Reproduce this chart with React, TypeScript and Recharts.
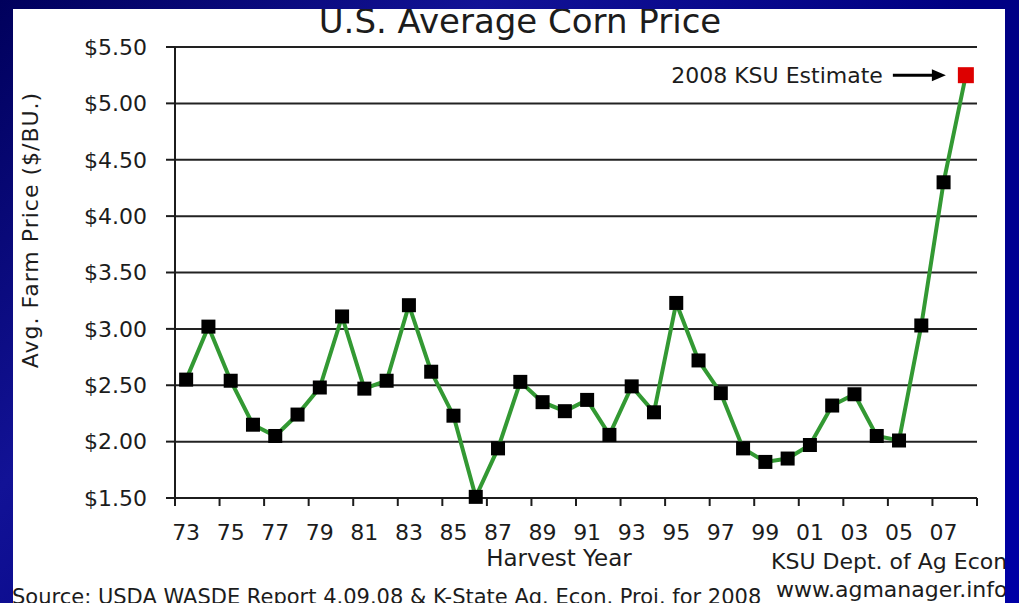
import React from "react";
import {
  LineChart, Line, XAxis, YAxis, CartesianGrid, ReferenceDot,
} from "recharts";

// harvest years, 1973 - 2008
const years = [
  "73", "74", "75", "76", "77", "78", "79", "80", "81", "82", "83", "84",
  "85", "86", "87", "88", "89", "90", "91", "92", "93", "94", "95", "96",
  "97", "98", "99", "00", "01", "02", "03", "04", "05", "06", "07", "08",
];
// avg farm price, $/bu (2008 = KSU estimate)
const prices = [
  2.55, 3.02, 2.54, 2.15, 2.05, 2.24, 2.48, 3.11, 2.47, 2.54, 3.21, 2.62,
  2.23, 1.51, 1.94, 2.53, 2.35, 2.27, 2.37, 2.06, 2.49, 2.26, 3.23, 2.72,
  2.43, 1.94, 1.82, 1.85, 1.97, 2.32, 2.42, 2.05, 2.01, 3.03, 4.30, 5.25,
];
const yTicks = [1.5, 2, 2.5, 3, 3.5, 4, 4.5, 5, 5.5];

const data = years.map((year, i) => ({ year, price: prices[i] }));

const FONT = "'DejaVu Sans', Verdana, sans-serif";
const INK = "#1c1c1c";
const GREEN = "#339933";
const W = 992;
const H = 594;
const MARGIN = { top: 38, right: 28, left: 0, bottom: 0 };
const Y_W = 162;
const BAND = (W - MARGIN.right - MARGIN.left - Y_W) / years.length;

function XTick(props: any) {
  const { x, y, payload } = props;
  const marks = [x - BAND / 2];
  if (payload.value === years[years.length - 2]) marks.push(x + BAND * 1.5);
  return (
    <g>
      {marks.map((mx, i) => (
        <line key={i} x1={mx} x2={mx} y1={y} y2={y + 8} stroke={INK} strokeWidth={2} />
      ))}
      <text x={x} y={y + 34} textAnchor="middle" dominantBaseline="central"
        fontFamily={FONT} fontSize={22} fill={INK}>
        {payload.value}
      </text>
    </g>
  );
}

function Square(props: any) {
  const { cx, cy, index } = props;
  const last = index === prices.length - 1;
  const s = last ? 16 : 14;
  return (
    <rect key={`d${index}`} x={cx - s / 2} y={cy - s / 2} width={s} height={s}
      fill={last ? "#dd0000" : "#000"} />
  );
}

function EstimateNote(props: any) {
  const { cx, cy } = props;
  return (
    <g>
      <text x={cx - 83} y={cy} textAnchor="end" dominantBaseline="central"
        fontFamily={FONT} fontSize={22} fill={INK}>
        2008 KSU Estimate
      </text>
      <line x1={cx - 73} x2={cx - 32} y1={cy} y2={cy} stroke="#000" strokeWidth={3} />
      <polygon points={`${cx - 20},${cy} ${cx - 34},${cy - 6} ${cx - 34},${cy + 6}`} fill="#000" />
    </g>
  );
}

export default function App() {
  return (
    <div style={{
      position: "fixed", left: 0, top: 0, width: 1019, height: 603,
      background: "linear-gradient(135deg, #00005c 0%, #121296 30%, #000082 60%, #0000a6 100%)",
    }}>
      <div style={{
        position: "absolute", left: 13, top: 9, width: W, height: H,
        background: "#fff", overflow: "hidden",
      }}>
        <LineChart width={W} height={H} data={data} margin={MARGIN}>
          <CartesianGrid horizontal vertical={false} stroke="#222" strokeWidth={2} />
          <XAxis
            dataKey="year"
            interval={1}
            height={105}
            padding={{ left: BAND / 2, right: BAND / 2 }}
            tickSize={0}
            tickMargin={0}
            tickLine={false}
            axisLine={{ stroke: INK, strokeWidth: 2 }}
            tick={<XTick />}
            label={{
              content: () => (
                <text x={546} y={557} textAnchor="middle" fontFamily={FONT} fontSize={23} fill={INK}>
                  Harvest Year
                </text>
              ),
            }}
          />
          <YAxis
            domain={[1.5, 5.5]}
            ticks={yTicks}
            width={Y_W}
            tickSize={9}
            tickMargin={19}
            tickFormatter={(v: number) => `$${v.toFixed(2)}`}
            tick={{ fontFamily: FONT, fontSize: 22, fill: INK }}
            tickLine={{ stroke: INK, strokeWidth: 2 }}
            axisLine={{ stroke: INK, strokeWidth: 2 }}
            label={{
              content: () => (
                <text x={25} y={221} transform="rotate(-90 25 221)" textAnchor="middle"
                  fontFamily={FONT} fontSize={22} letterSpacing={1} fill={INK}>
                  Avg. Farm Price ($/BU.)
                </text>
              ),
            }}
          />
          <YAxis yAxisId="r" orientation="right" width={0} domain={[1.5, 5.5]}
            tick={false} tickLine={false} axisLine={{ stroke: INK, strokeWidth: 2 }} />
          <Line
            type="linear"
            dataKey="price"
            stroke={GREEN}
            strokeWidth={4}
            dot={Square}
            activeDot={false}
            isAnimationActive={false}
          />
          <ReferenceDot x={years[years.length - 1]} y={prices[prices.length - 1]}
            r={0} shape={EstimateNote} />
        </LineChart>
        <svg width={W} height={H} style={{ position: "absolute", left: 0, top: 0, pointerEvents: "none" }}>
          <text x={507} y={24} textAnchor="middle" fontFamily={FONT} fontSize={34} fill={INK}>
            U.S. Average Corn Price
          </text>
          <text x={758} y={560} fontFamily={FONT} fontSize={22} fill={INK}>KSU Dept. of Ag Econ</text>
          <text x={763} y={588} fontFamily={FONT} fontSize={22} fill={INK}>www.agmanager.info</text>
          <text x={-1} y={595} fontFamily={FONT} fontSize={21} fill={INK}>
            Source: USDA WASDE Report 4.09.08 &amp; K-State Ag. Econ. Proj. for 2008
          </text>
        </svg>
      </div>
    </div>
  );
}
